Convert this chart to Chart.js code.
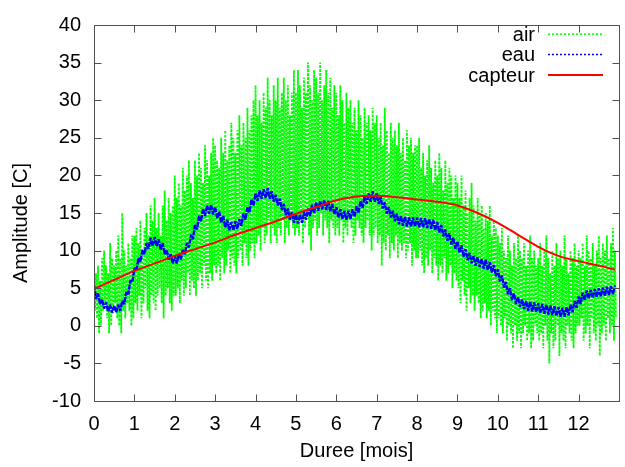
<!DOCTYPE html>
<html>
<head>
<meta charset="utf-8">
<script src="https://cdn.jsdelivr.net/npm/chart.js@4.4.1/dist/chart.umd.min.js"></script>
<style>
  html, body { margin: 0; padding: 0; background: #fff; overflow: hidden; }
  #cadre { width: 625px; height: 467px; overflow: hidden; }
</style>
</head>
<body>
<div id="cadre"><canvas id="temperatures" width="630" height="467"></canvas></div>
<script>
// pas des releves (en mois)
var pas = 0.05;

// air : maxima et minima relevés tous les 0.05 mois (une ligne par mois)
var airMax = [
  9,7,8,6,9,10,8,7,11,9,8,10,12,9,15,10,8,11,9,12,
  12,13,11,14,10,13,15,12,16,14,17,13,15,12,16,18,14,17,15,16,
  20,17,19,16,21,18,20,22,19,17,22,20,23,21,19,24,22,20,23,25,
  24,22,21,25,23,26,22,24,27,25,23,26,28,24,27,25,29,26,28,30,
  32,28,30,27,31,29,33,30,28,32,30,33,29,31,33,30,32,28,31,34,
  31,34,32,29,33,31,35,32,30,34,33,31,35,30,32,34,31,33,29,32,
  31,28,32,30,27,31,29,30,27,29,26,30,28,25,29,27,28,26,29,27,
  28,25,27,24,29,26,23,27,25,26,24,27,23,25,22,26,24,25,23,24,
  24,25,21,23,20,22,24,21,19,22,20,23,21,18,22,19,21,20,17,20,
  19,17,20,16,18,15,17,19,16,14,17,15,16,13,15,14,16,12,14,13,
  12,11,13,10,9,12,10,8,11,9,12,10,9,11,8,10,12,9,10,8,
  9,11,8,10,12,9,7,10,8,11,9,10,8,12,9,7,10,9,11,8,
  10,9,11,8,12,10,9,11,8,10,12,9,11,10,12,9,11,13,10
];
var airMin = [
  2,1,-1,0,2,3,1,-1,0,2,3,1,0,-1,2,1,3,2,0,1,
  3,2,4,1,3,5,2,1,4,3,2,4,5,3,1,4,5,3,2,4,
  4,5,3,6,4,5,7,4,6,5,4,6,7,5,8,6,5,7,6,8,
  7,8,6,9,7,8,10,7,9,8,7,9,10,8,11,9,8,10,11,9,
  11,12,10,13,11,12,14,11,13,12,11,13,12,14,11,13,12,14,13,12,
  13,12,14,11,13,15,12,10,13,14,12,13,15,12,14,13,11,14,13,12,
  13,12,14,11,13,12,14,13,11,12,14,13,12,11,13,14,12,10,12,13,
  11,12,8,11,10,12,9,11,10,12,9,11,10,11,9,10,11,8,10,9,
  9,10,8,7,9,8,10,7,9,8,6,8,7,9,6,7,8,5,7,6,
  5,3,6,4,2,5,3,4,2,4,3,1,2,3,1,2,0,2,1,-1,
  1,0,-1,1,-2,0,-1,-3,0,-2,-1,-3,-1,0,-2,-1,-3,-2,0,-1,
  -2,-1,-3,0,-2,-5,-1,-3,-2,0,-4,-1,-2,-3,0,-1,-2,-3,-1,0,
  0,1,-2,-1,0,-3,1,-1,-2,0,-4,-1,0,-2,1,-1,0,-2,1
];

// eau : relevés tous les 0.05 mois
var eau = [
  5.4,3.6,4.3,2.9,3.5,2.3,3.1,1.9,2.8,1.7,2.7,1.8,2.8,2.0,3.3,2.9,4.5,4.2,6.0,5.8,
  7.7,7.3,9.0,8.5,10.1,9.5,11.0,10.2,11.7,10.6,11.8,10.6,11.5,10.1,11.0,9.5,10.1,8.8,9.5,8.3,
  9.3,8.3,9.5,8.8,10.1,9.5,11.0,10.4,12.1,11.5,13.4,12.8,14.6,13.9,15.6,14.6,16.0,14.9,16.1,14.8,
  15.8,14.3,15.2,13.7,14.6,13.1,14.1,12.7,13.8,12.7,13.9,12.9,14.2,13.3,14.9,14.1,15.8,15.1,16.8,16.0,
  17.6,16.6,18.0,16.9,18.2,17.0,18.3,16.9,17.9,16.5,17.4,16.0,16.9,15.4,16.2,14.7,15.6,14.1,15.1,13.7,
  14.8,13.6,14.8,13.7,15.1,14.1,15.6,14.6,16.1,15.0,16.4,15.3,16.6,15.5,16.7,15.4,16.6,15.2,16.2,14.8,
  15.8,14.4,15.5,14.2,15.3,14.1,15.3,14.2,15.5,14.5,15.9,15.0,16.6,15.7,17.2,16.2,17.6,16.5,17.9,16.5,
  17.6,16.2,17.1,15.6,16.4,14.9,15.8,14.4,15.3,13.9,14.9,13.5,14.6,13.3,14.5,13.2,14.4,13.2,14.4,13.2,
  14.4,13.1,14.3,13.1,14.3,13.0,14.2,12.9,14.1,12.7,13.8,12.4,13.4,11.9,12.8,11.3,12.3,10.8,11.7,10.2,
  11.2,9.7,10.7,9.2,10.2,8.7,9.7,8.3,9.3,8.0,9.1,7.8,8.9,7.6,8.8,7.4,8.5,7.1,8.1,6.6,
  7.5,5.9,6.7,5.1,5.8,4.2,5.0,3.4,4.3,2.9,3.8,2.5,3.5,2.2,3.3,2.0,3.2,1.9,3.1,1.8,
  3.0,1.7,2.9,1.6,2.8,1.5,2.7,1.4,2.6,1.3,2.5,1.2,2.4,1.2,2.5,1.4,2.8,1.8,3.3,2.4,
  3.9,2.9,4.4,3.4,4.7,3.6,4.8,3.7,4.9,3.8,5.0,3.9,5.1,4.0,5.2,4.1,5.3,4.2,5.4
];

// capteur
var capteurMois = [0,0.5,1,1.5,2,2.5,3,3.5,4,4.5,5,5.5,6,6.5,7,7.5,8,8.5,9,9.5,10,10.5,11,11.5,12,12.5,12.9];
var capteurVal  = [4.9,6.1,7.3,8.3,9.3,10.2,11.1,12.1,13.0,13.9,14.9,15.8,16.7,17.2,17.3,17.1,16.8,16.5,16.0,15.0,13.7,12.1,10.5,9.3,8.6,8.0,7.45];

var xTicks = { min: 0, max: 13, step: 1 };
var yTicks = { min: -10, max: 40, step: 5 };

var police = '"Liberation Sans", Arial, Helvetica, sans-serif';

var airPoints = [];
airMax.forEach(function(v, i){
    airPoints.push({x: i * pas, y: v});
    airPoints.push({x: i * pas + pas / 2, y: airMin[i]});
});
var eauPoints = eau.map(function(v, i){ return {x: i * pas, y: v}; });
var capteurPoints = capteurMois.map(function(m, i){ return {x: m, y: capteurVal[i]}; });

// cadre, graduations interieures, titres des axes et legende facon gnuplot
var gnuplotLook = {
    id: 'gnuplotLook',
    afterDraw: function(chart){
        var ctx = chart.ctx, a = chart.chartArea;
        var sx = chart.scales.x, sy = chart.scales.y;
        var L = Math.round(a.left) + 0.5, R = Math.round(a.right) + 0.5;
        var T = Math.round(a.top) + 0.5, B = Math.round(a.bottom) + 0.5;
        var tl = 7;
        ctx.save();
        ctx.strokeStyle = '#505050';
        ctx.lineWidth = 1;
        ctx.setLineDash([]);
        ctx.beginPath();
        ctx.rect(L, T, R - L, B - T);
        sx.ticks.forEach(function(t){
            var px = Math.round(sx.getPixelForValue(t.value)) + 0.5;
            ctx.moveTo(px, B); ctx.lineTo(px, B - tl);
            ctx.moveTo(px, T); ctx.lineTo(px, T + tl);
        });
        sy.ticks.forEach(function(t){
            var py = Math.round(sy.getPixelForValue(t.value)) + 0.5;
            ctx.moveTo(L, py); ctx.lineTo(L + tl, py);
            ctx.moveTo(R, py); ctx.lineTo(R - tl, py);
        });
        ctx.stroke();

        ctx.fillStyle = '#000';
        ctx.font = '20px ' + police;
        ctx.textAlign = 'center';
        ctx.textBaseline = 'middle';
        ctx.fillText('Duree [mois]', (a.left + a.right) / 2, 451);
        ctx.save();
        ctx.translate(21.5, 223);
        ctx.rotate(-Math.PI / 2);
        ctx.fillText('Amplitude [C]', 0, 0);
        ctx.restore();

        // legende
        var baselines = [40.7, 61, 81.5];
        chart.data.datasets.forEach(function(ds, i){
            ctx.fillStyle = '#000';
            ctx.textAlign = 'right';
            ctx.textBaseline = 'alphabetic';
            ctx.fillText(ds.label, 535, baselines[i]);
            var ly = baselines[i] - 6.5;
            ctx.strokeStyle = ds.borderColor;
            ctx.lineWidth = ds.label === 'capteur' ? 2 : 1.5;
            ctx.setLineDash(ds.borderDash ? [2, 2] : []);
            ctx.beginPath();
            ctx.moveTo(548, ly);
            ctx.lineTo(603, ly);
            ctx.stroke();
        });
        ctx.restore();
    }
};

var chart = new Chart(document.getElementById('temperatures'), {
    type: 'line',
    data: {
        datasets: [{
            label: 'air',
            data: airPoints,
            borderColor: '#00ff00',
            borderWidth: 1.8,
            borderDash: [2.5, 1.5],
            borderJoinStyle: 'bevel',
            pointRadius: 0,
            order: 3
        }, {
            label: 'eau',
            data: eauPoints,
            borderColor: '#0000ff',
            borderWidth: 2.4,
            borderDash: [5, 1],
            borderJoinStyle: 'bevel',
            pointRadius: 0,
            order: 2
        }, {
            label: 'capteur',
            data: capteurPoints,
            borderColor: '#ff0000',
            borderWidth: 2,
            cubicInterpolationMode: 'monotone',
            pointRadius: 0,
            order: 1
        }]
    },
    options: {
        responsive: false,
        animation: false,
        events: [],
        layout: { padding: { top: 16, right: 1.4, left: 0, bottom: 0 } },
        plugins: { legend: { display: false }, tooltip: { enabled: false } },
        scales: {
            x: {
                type: 'linear',
                min: xTicks.min,
                max: xTicks.max,
                grid: { display: false, drawTicks: false },
                border: { display: false },
                afterFit: function(scale){ scale.height = 66; },
                ticks: {
                    stepSize: xTicks.step,
                    autoSkip: false,
                    maxRotation: 0,
                    padding: 11,
                    color: '#000',
                    font: { family: police, size: 20 },
                    callback: function(v){ return v === xTicks.max ? '' : v; }
                }
            },
            y: {
                min: yTicks.min,
                max: yTicks.max,
                grid: { display: false, drawTicks: false },
                border: { display: false },
                afterFit: function(scale){ scale.width = 94; },
                ticks: {
                    stepSize: yTicks.step,
                    padding: 13,
                    color: '#000',
                    font: { family: police, size: 20 }
                }
            }
        }
    },
    plugins: [gnuplotLook]
});
</script>
</body>
</html>
